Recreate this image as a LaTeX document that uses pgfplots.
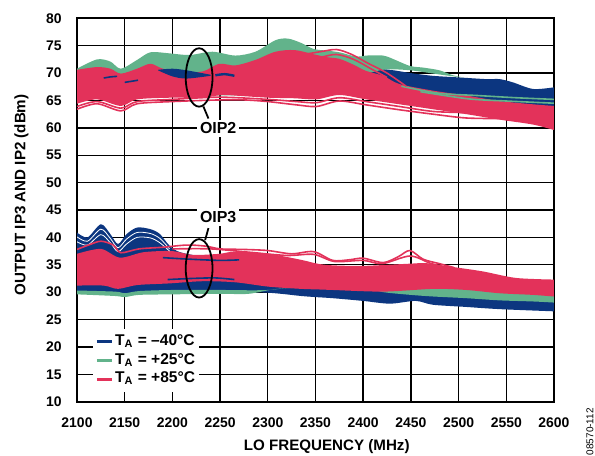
\documentclass[border=0pt]{standalone}
\usepackage{fontspec}
\setmainfont{Liberation Sans}
\usepackage{pgfplots}
\pgfplotsset{compat=1.18}
\usepgfplotslibrary{fillbetween}
\definecolor{cB}{HTML}{0C3680}
\definecolor{cG}{HTML}{62B38B}
\definecolor{cR}{HTML}{E3325A}
\newcommand\band[4]{%
 \addplot[name path=#2u, draw=none, smooth, forget plot] coordinates {#3};
 \addplot[name path=#2l, draw=none, smooth, forget plot] coordinates {#4};
 \addplot[fill=#1, draw=none, forget plot] fill between[of=#2u and #2l];
}
\begin{document}
\begin{tikzpicture}
\begin{axis}[
  at={(0,0)}, anchor=south west,
  scale only axis, width=238.5bp, height=191.7bp,
  xmin=2100, xmax=2600, ymin=10, ymax=80,
  xtick={2100,2150,...,2600}, ytick={10,15,...,80},
  grid=major, major grid style={line width=0.7bp, black},
  axis line style={line width=0.9bp, black},
  major tick length=0pt,
  /pgf/number format/assume math mode=true,
  /pgf/number format/1000 sep={},
  tick label style={font=\bfseries\fontsize{7}{8}\selectfont},
  x tick label style={yshift=-4.4bp},
  y tick label style={xshift=-4.2bp},
  xlabel={LO FREQUENCY (MHz)},
  ylabel={OUTPUT IP3 AND IP2 (dBm)},
  xlabel style={at={(axis description cs:0.5235,-0.1179)}, anchor=center, font=\bfseries\fontsize{7.6}{9}\selectfont},
  ylabel style={at={(axis description cs:-0.1164,0.539)}, anchor=center, font=\bfseries\fontsize{7.6}{9}\selectfont},
  legend style={at={(axis description cs:0.0335,0.19)}, anchor=north west,
    draw=none, fill=white, inner xsep=1bp, inner ysep=1.5bp,
    font=\bfseries\fontsize{7.8}{9}\selectfont, row sep=0pt,
    nodes={inner sep=0.9bp, text height=5.6bp, text depth=2.0bp},
    cells={anchor=west}},
  legend image code/.code={\draw[#1, line width=1.5bp] (0bp,0bp) -- (7.5bp,0bp);},
]
% ---------------- blue (-40C) ----------------
\band{cB}{bOtwo}{(2100,70.0) (2150,70.0) (2200,70.5) (2250,70.5) (2300,71.0) (2350,71.5) (2400,71.0) (2428,70.6) (2450,70.0) (2473,69.5) (2501,69.2) (2529,68.9) (2543,68.9) (2557,68.3) (2578,67.1) (2600,67.4)}
{(2100,65.5) (2200,66) (2300,66) (2400,66) (2450,65) (2500,64.3) (2550,63.6) (2600,63.0)}
\band{cB}{bOthree}{(2100,40.9) (2111,40.0) (2125,42.4) (2135,40.6) (2143,38.8) (2152,40.6) (2163,41.8) (2177,41.5) (2187,40.6) (2197,38.5) (2210,37.2) (2250,36.0) (2300,35.0) (2350,33.5) (2400,32.5) (2450,31.5) (2500,30.5) (2550,29.5) (2600,28.6)}
{(2100,29.9) (2140,29.7) (2150,29.5) (2165,29.9) (2200,30.1) (2250,30.1) (2300,29.9) (2335,29.3) (2350,29.1) (2368,28.9) (2400,28.4) (2428,27.9) (2455,28.4) (2473,27.7) (2508,27.3) (2543,26.9) (2600,26.5)}
% white gaps in blue OIP3 bundle
\addplot[white, line width=0.4bp, smooth, forget plot] coordinates {(2100,40.1) (2111,39.3) (2125,41.5) (2135,39.8) (2143,38.1) (2152,39.7) (2163,40.9) (2177,40.7) (2187,39.8) (2197,37.9)};
\addplot[white, line width=0.4bp, smooth, forget plot] coordinates {(2100,39.2) (2111,38.6) (2125,40.5) (2135,39.0) (2143,37.4) (2152,38.8) (2163,40.0) (2177,39.9) (2187,39.0) (2197,37.5)};
% ---------------- green (+25C) ----------------
\band{cG}{gOtwo}{(2100,70.8) (2121,72.5) (2135,72.1) (2146,70.8) (2163,72.4) (2177,73.8) (2197,73.6) (2218,73.3) (2242,73.9) (2266,73.2) (2287,73.9) (2308,76.0) (2321,76.3) (2335,75.5) (2348,74.4) (2362,74.1) (2375,73.8) (2393,73.0) (2403,73.2) (2421,73.2) (2431,72.6) (2449,71.3) (2463,71.0) (2480,70.5) (2494,69.6) (2505,69.2)}
{(2100,66) (2200,66) (2300,66) (2380,67) (2400,69.5) (2415,70.4) (2428,70.7) (2450,70.5) (2470,70.0) (2490,69.5) (2505,69.2)}
\band{cG}{gOthree}{(2100,30.3) (2140,30.1) (2150,29.8) (2165,30.2) (2200,30.4) (2250,30.4) (2300,30.4) (2350,31.3) (2400,31.0) (2450,30.9) (2474,30.9) (2508,30.6) (2543,30.1) (2578,29.8) (2600,29.5)}
{(2100,29.6) (2140,29.3) (2150,29.1) (2165,29.5) (2200,29.6) (2250,29.7) (2280,29.7) (2310,30.6) (2350,30.9) (2400,30.8) (2421,30.0) (2450,29.5) (2474,29.2) (2508,28.9) (2543,28.5) (2578,28.3) (2600,28.1)}
\addplot[cG, line width=0.8bp, smooth, forget plot] coordinates {(2440,67.6) (2480,66.3) (2520,65.9) (2560,65.5) (2600,65.2)};
\addplot[cG, line width=0.8bp, smooth, forget plot] coordinates {(2460,66.6) (2510,65.3) (2550,64.9) (2600,64.5)};
% ---------------- red (+85C) ----------------
\band{cR}{rOtwo}{(2100,70.6) (2121,71.1) (2135,70.8) (2146,69.9) (2163,70.8) (2177,71.7) (2190,70.8) (2211,70.2) (2232,70.3) (2249,71.7) (2266,71.4) (2287,72.4) (2308,73.9) (2328,74.2) (2349,73.4) (2362,72.9) (2375,72.6) (2389,71.6) (2403,70.4) (2421,69.5) (2438,68.0) (2473,66.8) (2508,65.9) (2543,64.9) (2578,64.3) (2600,64.0)}
{(2100,64.4) (2121,65.2) (2146,64.0) (2163,65.2) (2197,65.5) (2232,65.5) (2252,66.0) (2273,65.8) (2301,65.5) (2328,65.4) (2351,65.2) (2375,66.0) (2403,65.2) (2438,64.3) (2473,63.4) (2508,62.5) (2543,61.5) (2578,60.6) (2600,59.6)}
\addplot[cR, line width=0.8bp, smooth, forget plot] coordinates {(2100,63.4) (2121,64.4) (2146,63.1) (2163,64.4) (2200,64.8) (2250,65.1) (2275,65.1) (2300,64.8) (2330,64.2) (2351,63.9) (2375,64.9) (2403,64.2) (2438,63.3) (2473,62.5) (2508,61.8) (2545,61.7)};
\addplot[cR, line width=0.8bp, smooth, forget plot] coordinates {(2100,63.9) (2121,64.8) (2146,63.6) (2163,64.8) (2200,65.2) (2250,65.6) (2300,65.2) (2330,64.8) (2351,64.6) (2375,65.5) (2403,64.8) (2438,63.9) (2473,63.0) (2505,62.8)};
\addplot[cR, line width=0.8bp, smooth, forget plot] coordinates {(2310,73.5) (2335,73.4) (2355,73.9) (2372,74.3) (2388,73.4) (2405,71.8) (2425,70.0) (2445,67.6)};
\addplot[cR, line width=0.8bp, smooth, forget plot] coordinates {(2335,72.7) (2355,72.9) (2372,73.4) (2390,72.5) (2408,70.8) (2425,69.2)};
\band{cR}{rOthree}{(2100,37.0) (2125,37.9) (2145,36.3) (2170,37.3) (2200,37.5) (2221,36.8) (2249,37.0) (2266,37.4) (2301,37.0) (2335,35.9) (2352,35.2) (2368,34.9) (2400,34.8) (2449,35.2) (2466,35.3) (2490,34.7) (2525,33.8) (2560,32.6) (2600,32.3)}
{(2100,31.2) (2128,31.2) (2143,30.6) (2163,31.3) (2197,31.6) (2232,32.0) (2266,31.8) (2301,31.0) (2335,30.6) (2352,30.5) (2368,30.4) (2421,30.1) (2474,30.6) (2508,30.4) (2543,29.8) (2578,29.5) (2600,29.2)}
\addplot[cR, line width=0.8bp, smooth, forget plot] coordinates {(2100,37.8) (2112,38.6) (2125,39.3) (2138,38.6) (2146,37.2) (2165,37.9) (2190,38.2) (2215,38.6) (2235,38.4) (2250,37.9) (2275,37.8) (2300,37.6) (2325,37.0) (2348,37.4) (2368,35.8) (2385,35.9) (2400,36.2) (2421,35.4) (2437,36.5) (2449,37.6) (2463,36.0) (2480,35.2) (2495,34.5)};
\addplot[cR, line width=0.8bp, smooth, forget plot] coordinates {(2200,37.9) (2240,37.9) (2280,37.3) (2320,36.7) (2348,36.9) (2370,35.6) (2400,35.8) (2420,35.2) (2449,36.6) (2470,35.3) (2485,34.6)};
% blue strands showing through the red bundles
\addplot[name path=pu, draw=none, smooth, forget plot] coordinates {(2185,70.6) (2200,70.8) (2215,70.5) (2240,69.7)};
\addplot[name path=pl, draw=none, smooth, forget plot] coordinates {(2185,70.5) (2200,69.4) (2215,69.0) (2240,69.5)};
\addplot[fill=cB, draw=none, forget plot] fill between[of=pu and pl];
\addplot[cB, line width=1.2bp, smooth, forget plot] coordinates {(2245,69.6) (2255,69.8) (2265,69.5)};
\addplot[cB, line width=0.8bp, smooth, forget plot] coordinates {(2128,69.1) (2135,69.3) (2142,69.4)};
\addplot[cB, line width=0.8bp, smooth, forget plot] coordinates {(2150,68.3) (2157,68.5) (2164,68.7)};
\addplot[cB, line width=0.8bp, smooth, forget plot] coordinates {(2195,32.3) (2220,32.5) (2245,32.6) (2265,32.3)};
\addplot[cB, line width=0.8bp, smooth, forget plot] coordinates {(2190,36.3) (2220,36.0) (2250,35.8) (2270,35.9)};
% ---------------- annotations ----------------
\draw[line width=0.9bp] (axis cs:2228,69.2) ellipse [x radius=6.7bp, y radius=14.6bp];
\draw[line width=0.9bp] (axis cs:2232.5,63.9) -- (axis cs:2237.8,61.7);
\node[fill=white, inner sep=1.5bp, font=\bfseries\fontsize{8}{9}\selectfont] at (axis cs:2248,59.9) {OIP2};
\draw[line width=0.9bp] (axis cs:2228,34.35) ellipse [x radius=6.7bp, y radius=14.6bp];
\draw[line width=0.9bp] (axis cs:2234.3,39.5) -- (axis cs:2237.8,41.7);
\node[fill=white, inner sep=1.5bp, font=\bfseries\fontsize{8}{9}\selectfont] at (axis cs:2248,43.7) {OIP3};
% ---------------- legend ----------------
\addlegendimage{color=cB}
\addlegendentry{T\textsubscript{A} = –40°C}
\addlegendimage{color=cG}
\addlegendentry{T\textsubscript{A} = +25°C}
\addlegendimage{color=cR}
\addlegendentry{T\textsubscript{A} = +85°C}
\end{axis}
\node[rotate=90, font=\fontsize{5}{6}\selectfont] at (256.5bp,-15bp) {08570-112};
\pgfresetboundingbox
\path[use as bounding box] (-38.5bp,-27.15bp) rectangle (259bp,200.85bp);
\end{tikzpicture}
\end{document}
